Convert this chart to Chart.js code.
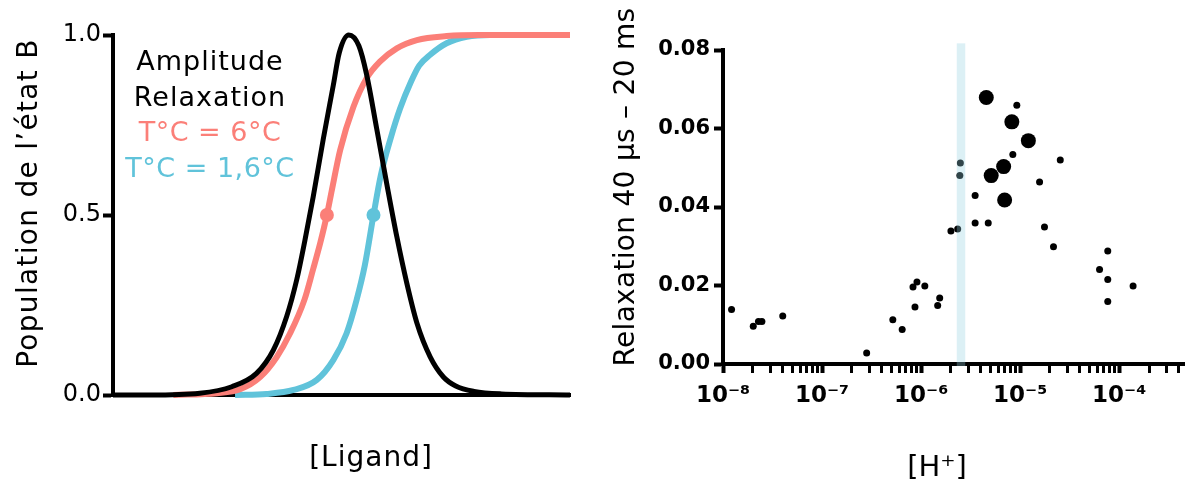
<!DOCTYPE html>
<html>
<head>
<meta charset="utf-8">
<script src="https://cdn.jsdelivr.net/npm/chart.js@4.4.1/dist/chart.umd.min.js"></script>
<style>
  html, body { margin: 0; padding: 0; background: #fff; width: 1192px; height: 481px; overflow: hidden; }
  .panel { position: absolute; top: 0; height: 481px; }
  #left { left: 0; width: 600px; }
  #right { left: 600px; width: 592px; }
</style>
</head>
<body>
<div class="panel" id="left"><canvas id="ligandChart"></canvas></div>
<div class="panel" id="right"><canvas id="relaxChart"></canvas></div>
<script>
// ── Data: left panel (schematic, [Ligand] in arbitrary units 0–100) ──
const blackX = [0, 8, 19, 26, 31.4, 35.1, 38, 40.2, 42, 43.8, 46, 48.2, 49.5, 51.6, 53.8, 55.5, 57.7, 60, 62.1, 64.3, 66.5, 69.4, 72.3, 75, 79, 85, 100];
const blackY = [0, 0, 0.005, 0.023, 0.06, 0.125, 0.218, 0.32, 0.43, 0.55, 0.71, 0.86, 0.95, 1.0, 0.97, 0.89, 0.74, 0.58, 0.44, 0.31, 0.2, 0.106, 0.05, 0.025, 0.01, 0.003, 0];

const redX = [13.2, 22.7, 27.8, 32.2, 35.8, 38.7, 41.9, 43.8, 45.4, 46.8, 47.9, 49.7, 52.6, 55.5, 58.4, 62.1, 66.5, 73, 80.3, 100];
const redY = [0, 0.005, 0.016, 0.05, 0.105, 0.17, 0.265, 0.35, 0.425, 0.5, 0.57, 0.68, 0.8, 0.88, 0.926, 0.963, 0.986, 0.997, 1, 1];

const blueX = [26.7, 33.6, 39.5, 44.6, 48.2, 51.1, 53.3, 55.1, 57, 58.6, 60.8, 62.8, 65.2, 67, 69.4, 73, 77.4, 82.5, 100];
const blueY = [0, 0.003, 0.014, 0.042, 0.097, 0.171, 0.264, 0.36, 0.5, 0.61, 0.715, 0.795, 0.87, 0.915, 0.945, 0.977, 0.995, 1, 1];

const redMid = [46.8, 0.5];
const blueMid = [57, 0.5];
const leftYTicks = [0, 0.5, 1.0];

// ── Data: right panel ([H+] vs relaxation amplitude) ──
const smallH = [1.22e-8, 2.02e-8, 2.28e-8, 2.47e-8, 4.01e-8, 2.82e-7, 5.18e-7, 6.44e-7, 8.28e-7, 9.08e-7, 8.67e-7, 1.09e-6,
  1.47e-6, 1.54e-6, 2.0e-6, 2.34e-6, 2.46e-6, 2.49e-6, 3.51e-6, 3.51e-6, 4.76e-6, 8.43e-6, 9.25e-6, 1.57e-5,
  1.76e-5, 2.17e-5, 2.54e-5, 6.33e-5, 7.66e-5, 7.66e-5, 7.66e-5, 1.38e-4];
const smallRelax = [0.0139, 0.0096, 0.0108, 0.0108, 0.0122, 0.0028, 0.0113, 0.0088, 0.0196, 0.0209, 0.0145, 0.0199,
  0.0149, 0.0168, 0.0339, 0.0344, 0.0480, 0.0512, 0.0429, 0.0359, 0.0359, 0.0534, 0.0659, 0.0464,
  0.0349, 0.0299, 0.0520, 0.0241, 0.0288, 0.0215, 0.0159, 0.0199];

const bigH = [4.55e-6, 8.24e-6, 1.21e-5, 6.81e-6, 5.1e-6, 6.97e-6];
const bigRelax = [0.0679, 0.0617, 0.0569, 0.0503, 0.0480, 0.0418];

const bandH = [2.29e-6, 2.79e-6];
const bandTop = 0.0817;

const decadeTicks = [1e-8, 1e-7, 1e-6, 1e-5, 1e-4];
const decadeLabels = ['10⁻⁸', '10⁻⁷', '10⁻⁶', '10⁻⁵', '10⁻⁴'];
const hRange = [1e-8, 4.56e-4];
const relaxTicks = [0, 0.02, 0.04, 0.06, 0.08];

// ── Styling ──
const FONT = 'DejaVu Sans';
const RED = '#fb7f78';
const BLUE = '#60c3da';

const pts = (xs, ys) => xs.map((x, i) => ({ x, y: ys[i] }));

// minor log ticks 1..9 per decade, up to the axis max
const logTicks = [];
decadeTicks.concat([1e-3]).forEach(d => {
  for (let m = 1; m <= 9; m++) {
    const v = d * m;
    if (v >= hRange[0] * 0.999 && v <= hRange[1]) logTicks.push(v);
  }
});
const decadeIndex = v => decadeTicks.findIndex(d => Math.abs(v / d - 1) < 1e-6);

// free text drawn on the canvas (annotations, axis titles)
const textPlugin = {
  id: 'freeText',
  afterDraw(chart, args, opts) {
    const ctx = chart.ctx;
    for (const t of opts.items || []) {
      ctx.save();
      ctx.font = t.font;
      ctx.fillStyle = t.color || '#000';
      ctx.textAlign = 'center';
      ctx.textBaseline = 'alphabetic';
      if (t.spacing) ctx.letterSpacing = t.spacing + 'px';
      ctx.translate(t.x, t.y);
      if (t.rotate) ctx.rotate(t.rotate);
      ctx.fillText(t.text, 0, 0);
      ctx.restore();
    }
  }
};

// translucent vertical band on the log axis
const bandPlugin = {
  id: 'hBand',
  afterDraw(chart, args, opts) {
    const { x, y } = chart.scales;
    const ctx = chart.ctx;
    const x0 = x.getPixelForValue(opts.from);
    const x1 = x.getPixelForValue(opts.to);
    const y0 = y.getPixelForValue(opts.top);
    const y1 = y.getPixelForValue(0) + 2;
    ctx.save();
    ctx.fillStyle = opts.color;
    ctx.fillRect(x0, y0, x1 - x0, y1 - y0);
    ctx.restore();
  }
};

// ── Left chart ──
new Chart(document.getElementById('ligandChart'), {
  type: 'scatter',
  data: {
    datasets: [
      { data: pts([redMid[0]], [redMid[1]]), backgroundColor: RED, pointRadius: 7, borderWidth: 0, clip: false },
      { data: pts([blueMid[0]], [blueMid[1]]), backgroundColor: BLUE, pointRadius: 7, borderWidth: 0, clip: false },
      { data: pts(blackX, blackY), showLine: true, borderColor: '#000', borderWidth: 5, pointRadius: 0, cubicInterpolationMode: 'monotone', clip: false },
      { data: pts(redX, redY), showLine: true, borderColor: RED, borderWidth: 6, pointRadius: 0, cubicInterpolationMode: 'monotone', clip: false },
      { data: pts(blueX, blueY), showLine: true, borderColor: BLUE, borderWidth: 6, pointRadius: 0, cubicInterpolationMode: 'monotone', clip: false },
    ],
  },
  options: {
    responsive: true,
    maintainAspectRatio: false,
    animation: false,
    layout: { padding: { left: 0, top: 35, right: 30, bottom: 0 } },
    plugins: {
      legend: { display: false },
      tooltip: { enabled: false },
      freeText: {
        items: [
          { text: 'Amplitude', x: 210, y: 70, font: `27px "${FONT}"`, spacing: 1 },
          { text: 'Relaxation', x: 210, y: 106, font: `27px "${FONT}"`, spacing: 1 },
          { text: 'T°C = 6°C', x: 210, y: 141, font: `27px "${FONT}"`, spacing: 0.5, color: RED },
          { text: 'T°C = 1,6°C', x: 210, y: 177, font: `27px "${FONT}"`, spacing: 0.5, color: BLUE },
          { text: 'Population de l’état B', x: 37, y: 203, font: `28px "${FONT}"`, spacing: 1.3, rotate: -Math.PI / 2 },
          { text: '[Ligand]', x: 371, y: 466, font: `28px "${FONT}"`, spacing: 1 },
        ],
      },
    },
    scales: {
      x: {
        type: 'linear', min: 0, max: 100,
        ticks: { display: false },
        grid: { display: true, drawOnChartArea: false, drawTicks: false },
        border: { color: '#000', width: 4 },
        afterFit: s => { s.height = 86; },
      },
      y: {
        min: 0, max: 1,
        afterBuildTicks: s => { s.ticks = leftYTicks.map(v => ({ value: v })); },
        ticks: { color: '#000', font: { family: FONT, size: 24 }, padding: 2, callback: v => v.toFixed(1) },
        grid: { drawOnChartArea: false, tickLength: 10, tickWidth: 4, tickColor: '#000' },
        border: { color: '#000', width: 4 },
        afterFit: s => { s.width = 113; },
      },
    },
  },
  plugins: [textPlugin],
});

// ── Right chart ──
new Chart(document.getElementById('relaxChart'), {
  type: 'scatter',
  data: {
    datasets: [
      { data: pts(bigH, bigRelax), backgroundColor: '#000', pointRadius: 7.5, borderWidth: 0, clip: false },
      { data: pts(smallH, smallRelax), backgroundColor: '#000', pointRadius: 3.5, borderWidth: 0, clip: false },
    ],
  },
  options: {
    responsive: true,
    maintainAspectRatio: false,
    animation: false,
    layout: { padding: { left: 0, top: 50, right: 0, bottom: 0 } },
    plugins: {
      legend: { display: false },
      tooltip: { enabled: false },
      hBand: { from: bandH[0], to: bandH[1], top: bandTop, color: 'rgba(150, 210, 225, 0.33)' },
      freeText: {
        items: [
          { text: 'Relaxation 40 µs – 20 ms', x: 34, y: 187, font: `28px "${FONT}"`, spacing: 0.3, rotate: -Math.PI / 2 },
          { text: '[H⁺]', x: 337, y: 476, font: `29px "${FONT}"` },
        ],
      },
    },
    scales: {
      x: {
        type: 'logarithmic', min: hRange[0], max: hRange[1],
        afterBuildTicks: s => { s.ticks = logTicks.map(v => ({ value: v })); },
        ticks: {
          autoSkip: false, maxRotation: 0, color: '#000', padding: 9,
          font: { family: FONT, size: 23, weight: 'bold' },
          callback: v => { const i = decadeIndex(v); return i >= 0 ? decadeLabels[i] : ''; },
        },
        grid: {
          drawOnChartArea: false, tickLength: 9, tickColor: '#000',
          tickWidth: c => (c.tick && decadeIndex(c.tick.value) >= 0 ? 4 : 3),
        },
        border: { color: '#000', width: 4 },
        afterFit: s => { s.height = 117; },
      },
      y: {
        min: 0, max: 0.08,
        afterBuildTicks: s => { s.ticks = relaxTicks.map(v => ({ value: v })); },
        ticks: { color: '#000', font: { family: FONT, size: 21, weight: 'bold' }, padding: 4, callback: v => v.toFixed(2) },
        grid: { drawOnChartArea: false, tickLength: 9, tickWidth: 4, tickColor: '#000' },
        border: { color: '#000', width: 4 },
        afterFit: s => { s.width = 123; },
      },
    },
  },
  plugins: [bandPlugin, textPlugin],
});
</script>
</body>
</html>
